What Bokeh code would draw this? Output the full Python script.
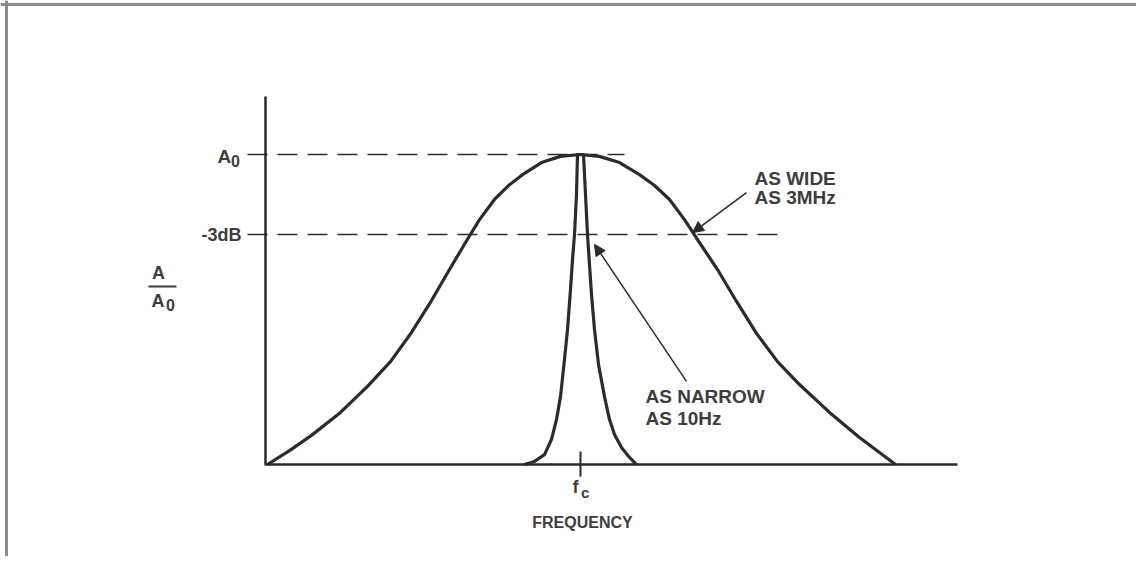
from bokeh.plotting import figure
from bokeh.models import Range1d, Label, Arrow, NormalHead, Span
from bokeh.embed import file_html
from bokeh.resources import INLINE

# ---- data (frequency relative to fc, amplitude normalised to A0) ----
wide_freq = [-3.12, -2.90, -2.68, -2.39, -2.12, -1.89, -1.68, -1.48, -1.30, -1.14, -1.00,
             -0.85, -0.71, -0.57, -0.38, -0.19, 0.00,
             0.20, 0.40, 0.60, 0.75, 0.90, 1.05, 1.20, 1.38, 1.57, 1.77, 1.98, 2.20,
             2.50, 2.80, 3.00, 3.16]
wide_amp = [0.000, 0.045, 0.094, 0.168, 0.252, 0.332, 0.426, 0.529, 0.629, 0.716, 0.790,
            0.855, 0.900, 0.935, 0.974, 0.994, 1.000,
            0.994, 0.974, 0.935, 0.900, 0.855, 0.790, 0.716, 0.629, 0.526, 0.423, 0.332,
            0.258, 0.168, 0.087, 0.039, 0.000]
narrow_freq = [-0.55, -0.45, -0.35, -0.28, -0.23, -0.19, -0.15, -0.12, -0.09, -0.07, -0.05,
               -0.03, -0.02,
               0.04, 0.06, 0.08, 0.10, 0.12, 0.15, 0.19, 0.25, 0.30, 0.35, 0.42, 0.50, 0.57]
narrow_amp = [0.000, 0.010, 0.032, 0.081, 0.145, 0.219, 0.339, 0.435, 0.565, 0.661, 0.742,
              0.871, 1.000,
              1.000, 0.871, 0.742, 0.645, 0.548, 0.435, 0.323, 0.219, 0.145, 0.097, 0.055,
              0.023, 0.000]
fc = 0.01
level_a0 = 1.0
level_3db = 0.742
axis_x = [-3.14, -3.14, 3.78]
axis_y = [1.187, 0.0, 0.0]
a0_line_x = [-3.32, 0.45]
db_line_x = [-3.32, 2.00]

INK = "#2b2b2b"
TXT = "#3d3d3d"
FONT = "Liberation Sans"

p = figure(width=1136, height=556, output_backend="svg", toolbar_location=None,
           x_range=Range1d(-5.79, 5.57), y_range=Range1d(-0.2967, 1.4968),
           min_border=0)
p.axis.visible = False
p.grid.visible = False
p.outline_line_color = None
p.background_fill_color = "white"
p.border_fill_color = "white"

# page frame (top and left edges)
p.add_layout(Span(location=1.4839, dimension="width", line_color="#8c8c8c", line_width=3))
p.add_layout(Span(location=-5.73, dimension="height", line_color="#8c8c8c", line_width=3))

# axes
p.line(axis_x, axis_y, line_color=INK, line_width=2.5, line_join="round")
p.segment(x0=[fc], y0=[0.042], x1=[fc], y1=[-0.039], line_color=INK, line_width=2)

# reference levels
p.line(a0_line_x, [level_a0, level_a0], line_color=INK, line_width=1.6, line_dash="20 10")
p.line(db_line_x, [level_3db, level_3db], line_color=INK, line_width=1.6, line_dash="20 10")

# response curves
p.line(wide_freq, wide_amp, line_color=INK, line_width=3.2, line_join="round")
p.line(narrow_freq, narrow_amp, line_color=INK, line_width=3.2, line_join="round")

def lab(x, y, t, size=19, align="left"):
    p.add_layout(Label(x=x, y=y, text=t, text_font=FONT, text_font_size=f"{size}px",
                       text_font_style="bold", text_color=TXT, text_align=align,
                       text_baseline="middle"))

# y labels
lab(-3.62, 0.994, "A")
lab(-3.485, 0.979, "0", 16)
lab(-3.38, 0.739, "-3dB", 18, "right")
# A / A0 fraction
lab(-4.21, 0.618, "A", 18, "center")
p.segment(x0=[-4.31], y0=[0.574], x1=[-4.03], y1=[0.574], line_color=TXT, line_width=2)
lab(-4.28, 0.529, "A", 18)
lab(-4.135, 0.513, "0", 16)

# x labels
lab(-0.07, -0.073, "f", 18)
lab(0.015, -0.089, "c", 15)
lab(0.03, -0.187, "FREQUENCY", 16, "center")

# callouts
lab(1.75, 0.923, "AS WIDE")
lab(1.75, 0.861, "AS 3MHz")
lab(0.66, 0.218, "AS NARROW")
lab(0.66, 0.148, "AS 10Hz")

p.add_layout(Arrow(x_start=1.67, y_start=0.877, x_end=1.13, y_end=0.748,
                   line_color=INK, line_width=1.5,
                   end=NormalHead(size=11, fill_color=INK, line_color=INK)))
p.add_layout(Arrow(x_start=1.07, y_start=0.268, x_end=0.15, y_end=0.710,
                   line_color=INK, line_width=1.5,
                   end=NormalHead(size=11, fill_color=INK, line_color=INK)))

open("out.html", "w").write(file_html(p, INLINE))
